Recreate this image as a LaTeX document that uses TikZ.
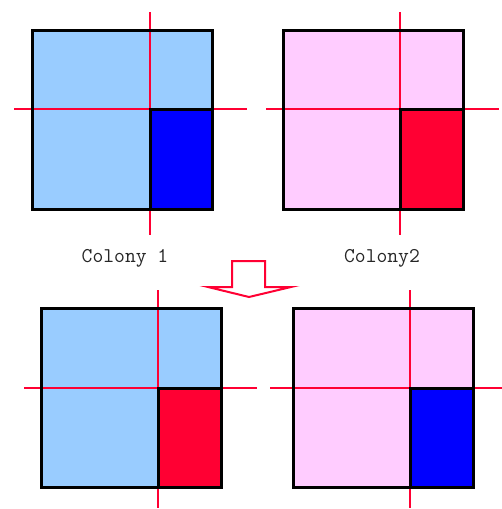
\documentclass[tikz,border=0pt]{standalone}
\usepackage{fontspec}
\begin{document}
\begin{tikzpicture}[x=1pt,y=-1pt,
  frame/.style={draw=black,line width=3pt},
  cross/.style={draw=crossred,line width=2.2pt},
  lbl/.style={font=\ttfamily\fontsize{21}{24}\selectfont,text=black!85,inner sep=0pt}]
\definecolor{lightblue}{HTML}{99CCFF}
\definecolor{lightpink}{HTML}{FFCCFF}
\definecolor{crossred}{HTML}{FF0033}
\definecolor{deepblue}{HTML}{0000FF}
\useasboundingbox (0,0) rectangle (502,509);
% generic colony: #1 x-left, #2 y-top, #3 base colour, #4 quadrant colour, #5 cross x, #6 cross y, line extents
\newcommand{\colonybox}[9]{%
  \fill[#3] (#1,#2) rectangle ++(180,179);
  \fill[#4] (#5,#6) rectangle (#1+180,#2+179);
  \draw[cross] (#5,#7) -- (#5,#8);
  \draw[cross] (#9,#6) -- ++(233,0);
  \draw[frame] (#5,#6) rectangle (#1+180,#2+179);
  \draw[frame] (#1,#2) rectangle ++(180,179);
}
\colonybox{32}{30}{lightblue}{deepblue}{150}{109}{12}{235}{14}
\colonybox{283}{30}{lightpink}{crossred}{400}{109}{12}{235}{266}
\colonybox{41}{308}{lightblue}{crossred}{158}{388}{290}{508}{24}
\colonybox{293}{308}{lightpink}{deepblue}{410}{388}{290}{508}{270}
\node[lbl] (c1) at (125,258) {Colony 1};
\node[lbl] (c2) at (382,258) {Colony2};
\draw[draw=crossred,fill=white,line width=2pt,line join=miter]
  (232,261) -- (265,261) -- (265,287) -- (291,287) -- (249,297) -- (208,287) -- (232,287) -- cycle;
\end{tikzpicture}
\end{document}
